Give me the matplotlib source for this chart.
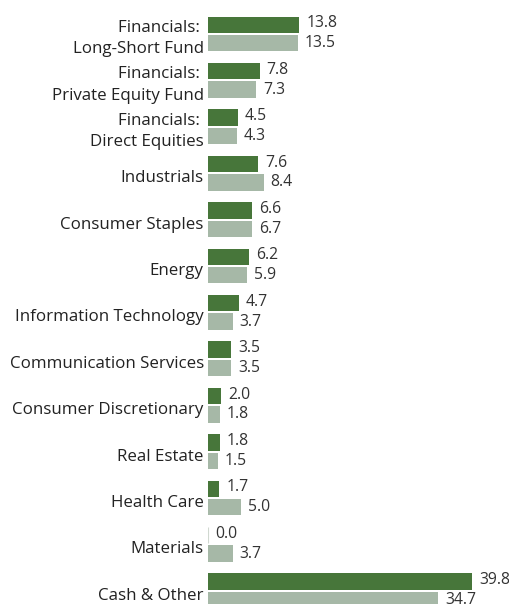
import numpy as np
import matplotlib.pyplot as plt
from matplotlib.transforms import ScaledTranslation

categories = ["Financials: \nLong-Short Fund", "Financials: \nPrivate Equity Fund",
              "Financials: \nDirect Equities", "Industrials", "Consumer Staples", "Energy",
              "Information Technology", "Communication Services", "Consumer Discretionary",
              "Real Estate", "Health Care", "Materials", "Cash & Other"]
current = [13.8, 7.8, 4.5, 7.6, 6.6, 6.2, 4.7, 3.5, 2.0, 1.8, 1.7, 0.0, 39.8]
previous = [13.5, 7.3, 4.3, 8.4, 6.7, 5.9, 3.7, 3.5, 1.8, 1.5, 5.0, 3.7, 34.7]

green = "#47763a"
grey = "#a6b8a7"

plt.rcParams['font.family'] = ['Open Sans', 'DejaVu Sans']

fig = plt.figure(figsize=(5.10, 6.04), dpi=100)
ax = fig.add_axes([208 / 510, 0, 1 - 208 / 510, 1])

step = 46.4
y = np.arange(len(categories))
h = 16.5 / step
off = 9.2 / step

ec = ["#d0d8d0" if v == 0 else green for v in current]
lw = [0.8 if v == 0 else 0 for v in current]
ax.barh(y - off, current, height=h, color=green, edgecolor=ec, linewidth=lw)
ax.barh(y + off, previous, height=h, color=grey, linewidth=0)

for yi, v in zip(y, current):
    ax.annotate(f"{v:.1f}", (v, yi - off), xytext=(5, 1), textcoords="offset points",
                va="center", ha="left", fontsize=11.3, color="#333333")
for yi, v in zip(y, previous):
    ax.annotate(f"{v:.1f}", (v, yi + off), xytext=(5, 0), textcoords="offset points",
                va="center", ha="left", fontsize=11.3, color="#333333")

ax.set_xlim(0, (510 - 208) / 6.63)
ax.set_ylim((604 - 34) / step, -34 / step)
ax.set_yticks(y)
ax.set_yticklabels(categories, fontsize=12.2, color="#222222", linespacing=1.45)
ax.tick_params(axis="y", length=0, pad=3)
# single-line labels sit a little below the group centre
shift = ScaledTranslation(0, -3 / 100, fig.dpi_scale_trans)
for lab in ax.get_yticklabels():
    if "\n" not in lab.get_text():
        lab.set_transform(lab.get_transform() + shift)
ax.set_xticks([])
for s in ax.spines.values():
    s.set_visible(False)

fig.savefig("out.png", dpi=100)
